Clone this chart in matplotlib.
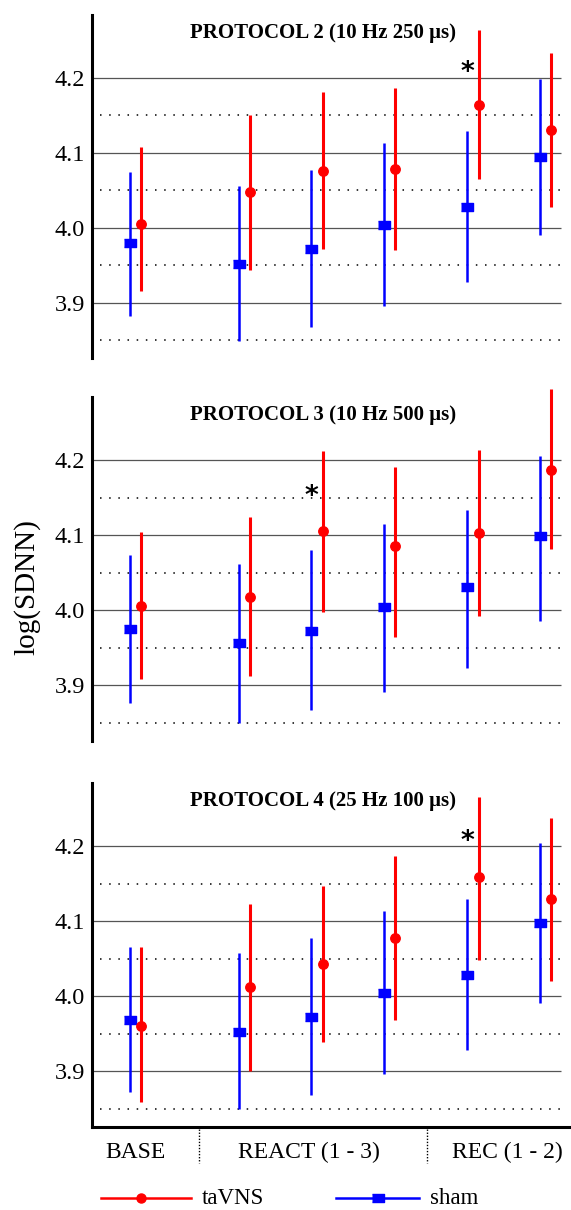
import numpy as np
import matplotlib.pyplot as plt
import matplotlib.transforms as mtransforms
from matplotlib.lines import Line2D

plt.rcParams['font.family'] = ['Liberation Serif', 'DejaVu Serif']

titles = ["PROTOCOL 2 (10 Hz 250 \u03bcs)",
          "PROTOCOL 3 (10 Hz 500 \u03bcs)",
          "PROTOCOL 4 (25 Hz 100 \u03bcs)"]
phases = ["BASE", "REACT (1 - 3)", "REC (1 - 2)"]

# sham: mean, lower end, upper end of error bar, per protocol
sham_mean = [[3.979, 3.952, 3.972, 4.004, 4.028, 4.095],
             [3.975, 3.956, 3.973, 4.005, 4.031, 4.099],
             [3.968, 3.953, 3.972, 4.004, 4.029, 4.097]]
sham_lo = [[3.882, 3.849, 3.867, 3.896, 3.928, 3.990],
           [3.877, 3.850, 3.867, 3.891, 3.923, 3.986],
           [3.873, 3.850, 3.868, 3.897, 3.929, 3.991]]
sham_hi = [[4.075, 4.056, 4.077, 4.113, 4.129, 4.198],
           [4.073, 4.061, 4.080, 4.115, 4.133, 4.205],
           [4.066, 4.057, 4.077, 4.114, 4.130, 4.204]]

# taVNS
tavns_mean = [[4.005, 4.048, 4.076, 4.078, 4.164, 4.130],
              [4.006, 4.018, 4.105, 4.085, 4.103, 4.187],
              [3.961, 4.012, 4.043, 4.078, 4.159, 4.130]]
tavns_lo = [[3.916, 3.944, 3.972, 3.970, 4.065, 4.027],
            [3.908, 3.912, 3.998, 3.965, 3.992, 4.082],
            [3.859, 3.901, 3.939, 3.969, 4.048, 4.021]]
tavns_hi = [[4.108, 4.151, 4.181, 4.186, 4.264, 4.233],
            [4.104, 4.124, 4.212, 4.191, 4.213, 4.294],
            [4.066, 4.123, 4.147, 4.187, 4.265, 4.237]]

# significance stars (index of time point, height)
star_idx = [4, 2, 4]
star_y = [4.213, 4.158, 4.212]

# layout of the time points along x
xpos = np.array([0, 1.5, 2.5, 3.5, 4.65, 5.65])
phase_x = [0, 2.39, 5.12]
sep_x = [0.87, 4.01]

RED = "#ff0000"
BLUE = "#0000ff"
rect = [(-1.4, -1), (1.4, -1), (1.4, 1), (-1.4, 1)]

fig = plt.figure(figsize=(5.71, 12.10), dpi=100)
boxes = [(0.161, 0.7041, 0.839, 0.2835),
         (0.161, 0.3876, 0.839, 0.2843),
         (0.161, 0.0686, 0.839, 0.2843)]

axes = []
for k, box in enumerate(boxes):
    ax = fig.add_axes(box)
    axes.append(ax)
    ax.set_xlim(-0.607, 6.0)
    ax.set_ylim(3.826, 4.284)
    for s in ["top", "right"]:
        ax.spines[s].set_visible(False)
    ax.spines["left"].set_linewidth(2.2)
    if k < 2:
        ax.spines["bottom"].set_visible(False)
    else:
        ax.spines["bottom"].set_linewidth(2.2)

    ax.hlines([3.9, 4.0, 4.1, 4.2], -0.607, 5.86, color="#555555", lw=0.9, zorder=1)
    ax.hlines([3.85, 3.95, 4.05, 4.15], -0.5, 5.9, color="black", lw=1.1,
              linestyle=(0, (1, 5)), zorder=1)

    xs = xpos - 0.08
    xr = xpos + 0.075
    ax.vlines(xs, sham_lo[k], sham_hi[k], color=BLUE, lw=1.8, zorder=3, clip_on=False)
    ax.plot(xs, sham_mean[k], ls="none", marker=rect, ms=8, color=BLUE, zorder=4)
    ax.vlines(xr, tavns_lo[k], tavns_hi[k], color=RED, lw=2.2, zorder=3, clip_on=False)
    ax.plot(xr, tavns_mean[k], ls="none", marker="o", ms=6.8, color=RED, zorder=4)

    ax.annotate("*", (xs[star_idx[k]], star_y[k]), xytext=(0, -3.6),
                textcoords="offset points", ha="center", va="center",
                fontsize=19, fontweight="bold", family="DejaVu Sans")

    ax.set_yticks([3.9, 4.0, 4.1, 4.2])
    ax.set_yticklabels(["3.9", "4.0", "4.1", "4.2"])
    ax.set_xticks([])
    ax.tick_params(axis="y", length=0, labelsize=17.5, pad=5)

    ax.text(0.482, 0.948, titles[k], transform=ax.transAxes, ha="center",
            va="center", fontsize=15, fontweight="bold")

fig.text(0.047, 1 - 587 / 1210, "log(SDNN)", rotation=90, ha="center",
         va="center", fontsize=21)

ax = axes[-1]
trans = mtransforms.blended_transform_factory(ax.transData, ax.transAxes)
for x in sep_x:
    ax.plot([x, x], [-0.005, -0.105], transform=trans, color="black", lw=1,
            linestyle=(0, (1, 1.2)), clip_on=False)
for x, lab in zip(phase_x, phases):
    ax.text(x, -0.073, lab, transform=trans, ha="center", va="center", fontsize=17)

# legend drawn by hand
ly = 1 - 1198 / 1210
fig.add_artist(Line2D([101 / 571, 191 / 571], [ly, ly], color=RED, lw=1.8))
fig.add_artist(Line2D([141 / 571], [ly], color=RED, marker="o", ms=6.5, ls="none"))
fig.text(202 / 571, ly, "taVNS", ha="left", va="center", fontsize=16.5)
fig.add_artist(Line2D([336 / 571, 419 / 571], [ly, ly], color=BLUE, lw=1.8))
fig.add_artist(Line2D([378 / 571], [ly], color=BLUE, marker=rect, ms=8, ls="none"))
fig.text(430 / 571, ly, "sham", ha="left", va="center", fontsize=16.5)

fig.savefig("out.png", dpi=100)
